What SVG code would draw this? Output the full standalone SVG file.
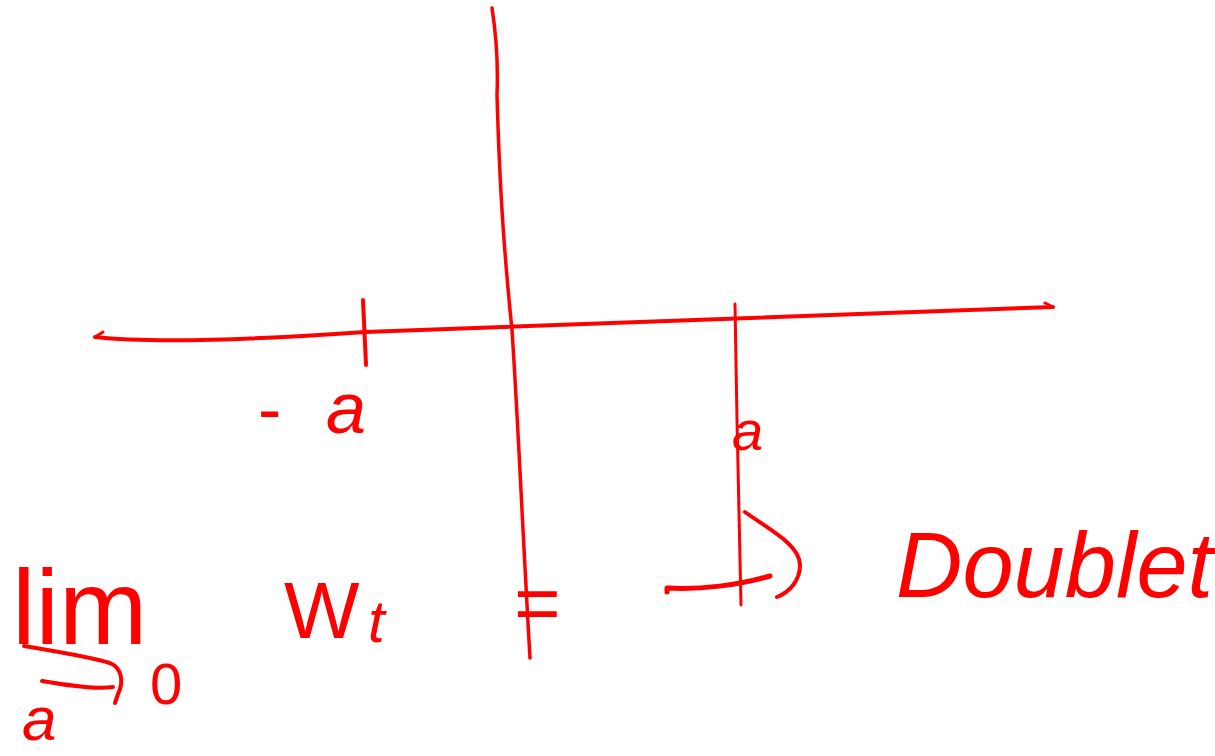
<svg xmlns="http://www.w3.org/2000/svg" width="1215" height="756" viewBox="0 0 1215 756">
<style>
.s{fill:none;stroke:#ff0000;stroke-linecap:round;stroke-linejoin:round}
.t{fill:#ff0000;font-family:"Liberation Sans",Arial,sans-serif}
</style>
<rect width="1215" height="756" fill="#ffffff"/>
<g id="axes">
<path class="s" stroke-width="4" d="M95 337 C150 343 250 340 365 332 C500 326 700 320 1053 307"/>
<path class="s" stroke-width="3" d="M95 337 L103 332 M1053 307 L1045 303"/>
<path class="s" stroke-width="3.5" d="M492 8 C497 40 498 70 497 95 C500 200 505 260 512 330 C518 420 522 520 530 658"/>
<path class="s" stroke-width="4" d="M363 300 L366 365"/>
<path class="s" stroke-width="3" d="M735 304 L737 420 L741 605"/>
</g>
<g id="labels">
<text class="t" x="258" y="433" font-size="70">-</text>
<text class="t" x="326" y="433" font-size="72" font-style="italic">a</text>
<text class="t" x="732" y="450" font-size="56" font-style="italic">a</text>
<text class="t" x="12" y="644" font-size="106">lim</text>
<path class="s" stroke-width="4" d="M24 646 C60 652 95 658 110 663 C122 668 124 682 118 694 L115 703 M42 681 C70 686 100 689 113 687"/>
<text class="t" x="22" y="740" font-size="62" font-style="italic">a</text>
<text class="t" x="150" y="704" font-size="58">0</text>
<text class="t" x="284" y="638" font-size="80">W</text>
<text class="t" x="368" y="642" font-size="60" font-style="italic">t</text>
<text class="t" x="514" y="630" font-size="80">=</text>
<path class="s" stroke-width="5" d="M667 592 L667 588 C700 590 740 585 770 576"/>
<path class="s" stroke-width="4" d="M745 512 C770 530 800 545 800 565 C800 580 790 592 777 597"/>
<text class="t" x="896" y="597" font-size="92" font-style="italic">Doublet</text>
</g>
</svg>
